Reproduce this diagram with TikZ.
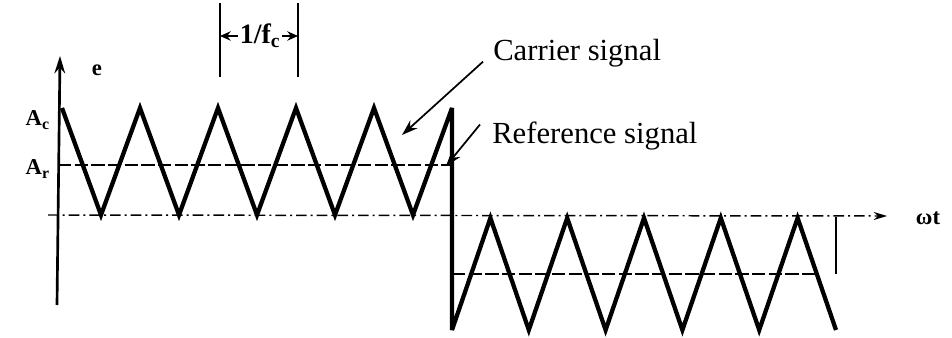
\documentclass[tikz,border=0pt]{standalone}
\usepackage{fontspec}
\setmainfont{Liberation Serif}
\usetikzlibrary{arrows.meta,calc,positioning}

\begin{document}
\begin{tikzpicture}[>=Stealth,x=0.75pt,y=-0.75pt,
  wave/.style={line width=3.2pt,line join=miter,miter limit=4},
  refline/.style={line width=1.2pt,dash pattern=on 10pt off 2.5pt},
  zeroline/.style={line width=1.1pt,dash pattern=on 8pt off 3pt on 1.5pt off 3pt},
  lbl/.style={font=\fontsize{23}{25}\selectfont,inner sep=0pt},
  axlbl/.style={font=\fontsize{17}{19}\selectfont\bfseries,inner sep=0pt}]
  \useasboundingbox (0,0) rectangle (952,338);
  % axes
  \coordinate (Ybot) at (57,305);
  \coordinate (Ytop) at (60,56);
  \coordinate (Xleft) at (48,215);
  \coordinate (Xright) at (887,216);
  \draw[line width=2pt,-{Stealth[length=13pt,width=8pt]}] (Ybot) -- (Ytop);
  \draw[zeroline,-{Stealth[length=10pt,width=6pt]}] (Xleft) -- (Xright);
  \node[axlbl] (elbl) at (97,70) {e};
  \node[axlbl,anchor=east] (Aclbl) at (50,120) {A\textsubscript{c}};
  \node[axlbl,anchor=east] (Arlbl) at (50,169) {A\textsubscript{r}};
  \node[axlbl] (wtlbl) at (928,218) {ωt};
  % reference levels
  \draw[refline] (58,165) -- (452,165);
  \draw[refline] (452,274) -- (817,274);
  \draw[line width=1.5pt] (836,217) -- (836,274);
  % carrier
  \draw[wave] (62,108)
    \foreach \k in {1,...,5} { -- ++(39,107) -- ++(39,-107) }
    -- (452,330)
    \foreach \k in {1,...,5} { -- ++(38.4,-112) -- ++(38.4,112) };
  % period
  \coordinate (PL) at (220,3);
  \coordinate (PR) at (298,3);
  \draw[line width=1.8pt] (PL) -- ++(0,74);
  \draw[line width=1.8pt] (PR) -- ++(0,74);
  \node[axlbl,font=\fontsize{21}{23}\selectfont\bfseries,inner sep=1pt] (period) at (260,36) {1/f\textsubscript{c}};
  \draw[line width=1.3pt,-{Stealth[length=8pt,width=7pt]}] (period.west) -- (period.west -| PL);
  \draw[line width=1.3pt,-{Stealth[length=8pt,width=7pt]}] (period.east) -- (period.east -| PR);
  % labels
  \node[lbl,anchor=base west] (cartxt) at (493,61) {Carrier signal};
  \node[lbl,anchor=base west] (reftxt) at (492,144) {Reference signal};
  \coordinate (cartip) at (402,135);
  \coordinate (reftip) at (446,166);
  \draw[line width=1.3pt,-{Stealth[length=12pt,width=8pt]}] ([shift={(-10,8)}]cartxt.west) -- (cartip);
  \draw[line width=1.3pt,-{Stealth[length=12pt,width=8pt]}] ([shift={(-12,-12)}]reftxt.west) -- (reftip);
\end{tikzpicture}
\end{document}
